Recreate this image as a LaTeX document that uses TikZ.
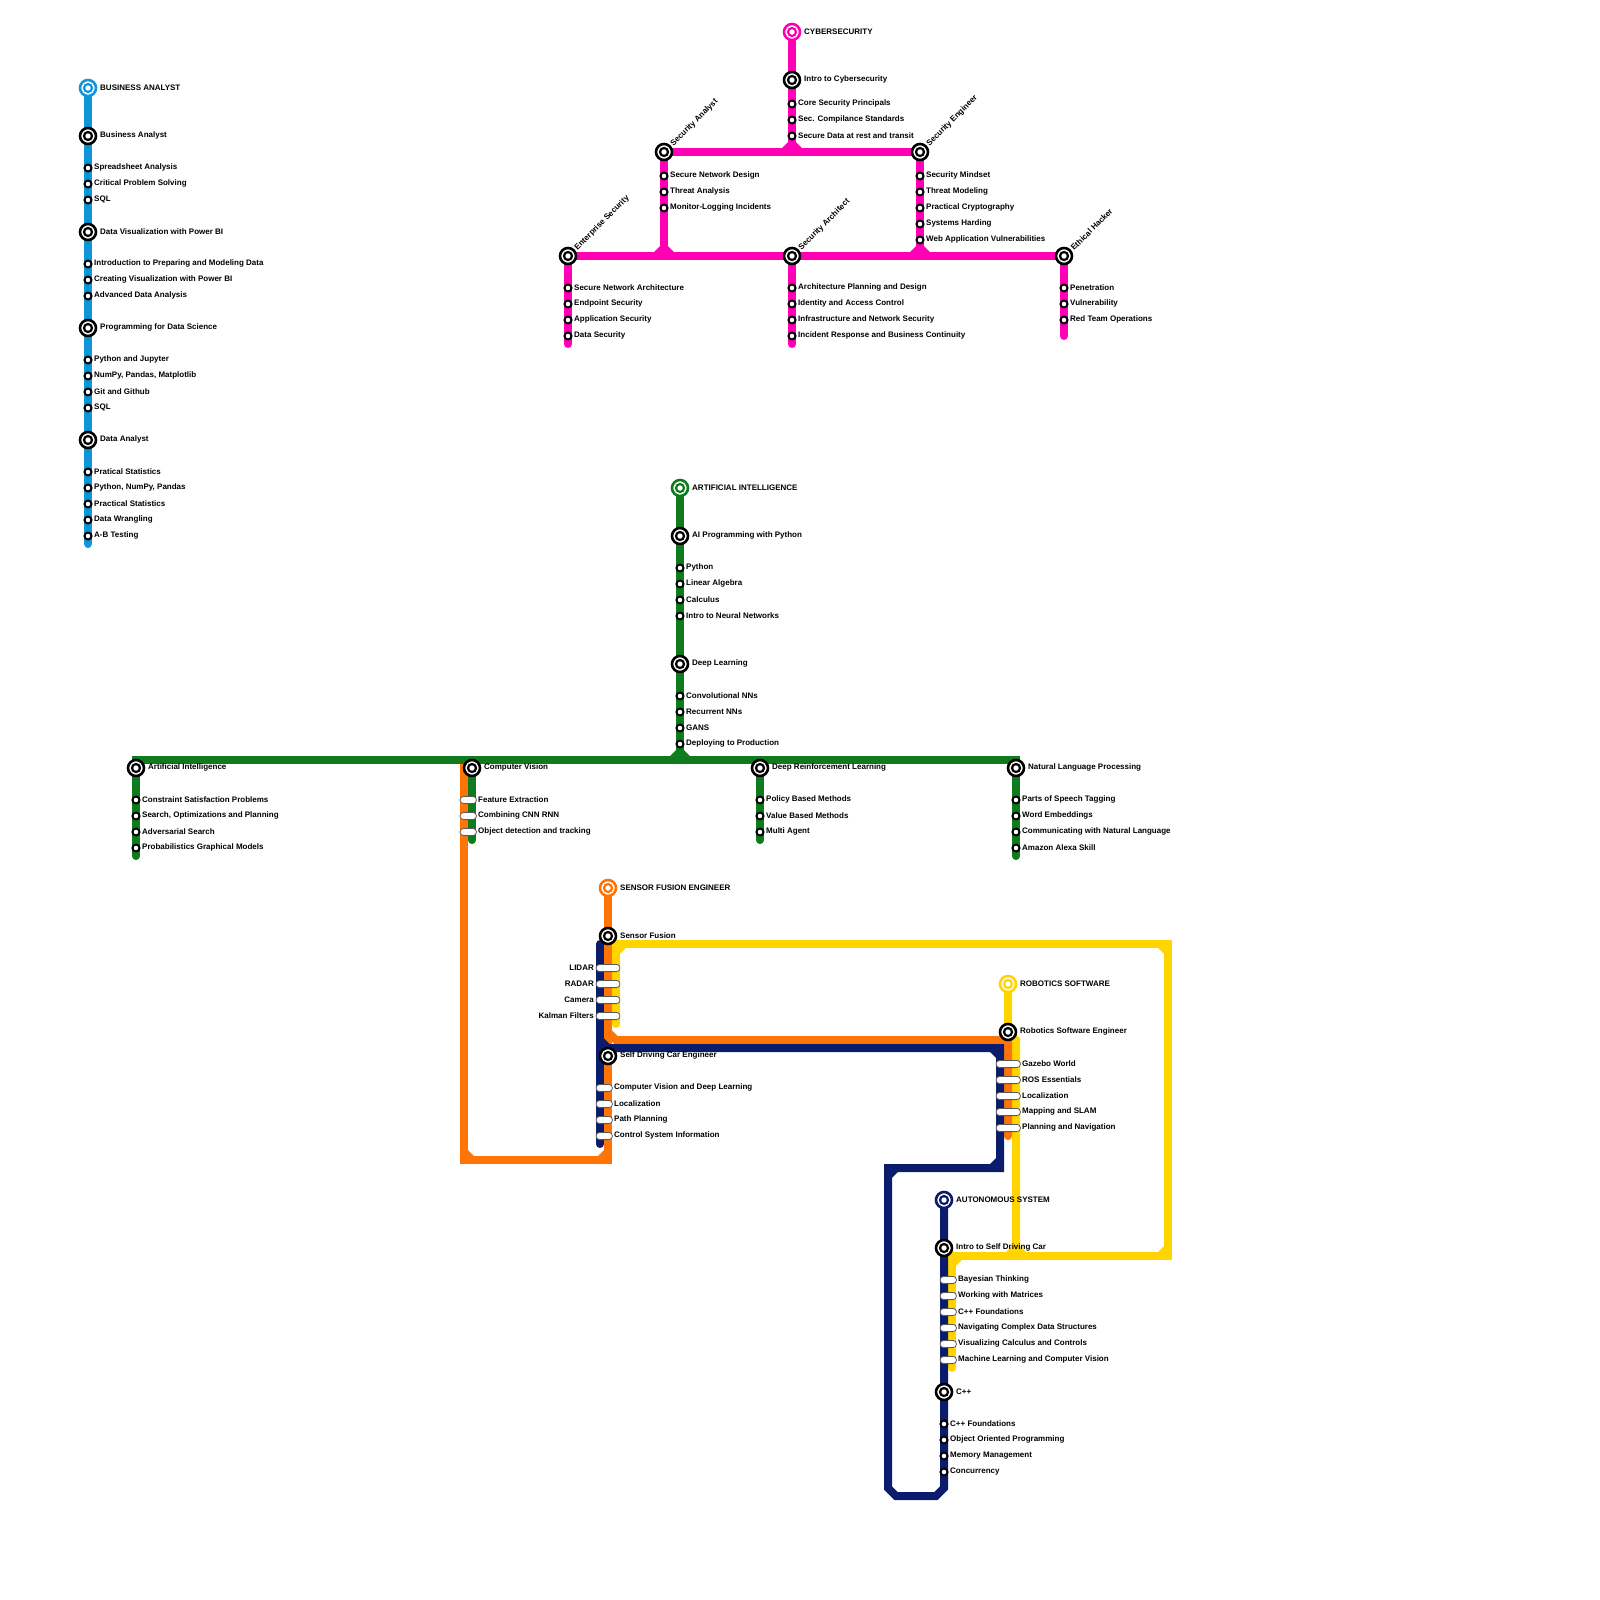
\documentclass[tikz,border=0pt]{standalone}
\usepackage{fontspec}
\setmainfont{Liberation Sans}
\usetikzlibrary{backgrounds}
\definecolor{cblue}{HTML}{0F96D8}
\definecolor{cmag}{HTML}{FF00B4}
\definecolor{cgreen}{HTML}{0F7A1E}
\definecolor{corange}{HTML}{FF7404}
\definecolor{cyellow}{HTML}{FFD400}
\definecolor{cnavy}{HTML}{0C1C6C}
\tikzset{
  lab/.style={font=\fontsize{8pt}{9pt}\selectfont\bfseries,inner sep=0pt,text=black,anchor=west},
  labr/.style={font=\fontsize{8pt}{9pt}\selectfont\bfseries,inner sep=0pt,text=black,anchor=east},
  ring/.style={circle,draw=#1,fill=white,line width=2.6pt,minimum size=16pt,inner sep=0pt},
  ringin/.style={circle,draw=#1,fill=white,line width=2.2pt,minimum size=8pt,inner sep=0pt},
  stopdot/.style={circle,draw=black,fill=white,line width=2pt,minimum size=7pt,inner sep=0pt},
  capsule/.style={rounded corners=3.6pt,draw=black!65,fill=white,line width=0.8pt},
  metro/.style={line width=8pt,line cap=round,line join=miter,color=#1},
}
% terminal of a line
\newcommand\term[5]{\node[ring=#5] (#1) at (#2,#3) {};\node[ringin=#5] at (#1.center) {};\node[lab] (#1-l) at (#2+12,#3-0.2) {#4};}
% major station
\newcommand\stn[4]{\node[ring=black] (#1) at (#2,#3) {};\node[ringin=black] at (#1.center) {};\node[lab] (#1-l) at (#2+12,#3-0.2) {#4};}
% station with slanted label
\newcommand\stnr[4]{\node[ring=black] (#1) at (#2,#3) {};\node[ringin=black] at (#1.center) {};\node[lab,rotate=45] (#1-l) at (#2+8,#3-7) {#4};}
% small stop
\newcommand\stp[4]{\node[stopdot] (#1) at (#2,#3) {};\node[lab] (#1-l) at (#2+6,#3-0.2) {#4};}
% capsule: name, x-left, x-right, y, label, label x
\newcommand\capn[6]{\draw[capsule] (#2,#4-3.6) rectangle (#3,#4+3.6);\coordinate (#1) at (#2,#4);\node[lab] (#1-l) at (#6,#4-0.2) {#5};}
\newcommand\capnl[6]{\draw[capsule] (#2,#4-3.6) rectangle (#3,#4+3.6);\coordinate (#1) at (#2,#4);\node[labr] (#1-l) at (#6,#4-0.2) {#5};}
% inner chamfer triangle: colour, corner x, y, dx, dy
\newcommand\ic[5]{\fill[#1] (#2+#4*3.9,#3+#5*3.9) -- (#2+#4*10,#3+#5*3.9) -- (#2+#4*3.9,#3+#5*10) -- cycle;}
\begin{document}
\begin{tikzpicture}[x=1pt,y=-1pt]
\useasboundingbox (0,0) rectangle (1600,1600);

% ---------- Business analyst
\term{ba}{88}{88}{BUSINESS ANALYST}{cblue}
\stn{ba1}{88}{136}{Business Analyst}
\stp{b1}{88}{168}{Spreadsheet Analysis}
\stp{b2}{88}{184}{Critical Problem Solving}
\stp{b3}{88}{200}{SQL}
\stn{ba2}{88}{232}{Data Visualization with Power BI}
\stp{b4}{88}{264}{Introduction to Preparing and Modeling Data}
\stp{b5}{88}{280}{Creating Visualization with Power BI}
\stp{b6}{88}{296}{Advanced Data Analysis}
\stn{ba3}{88}{328}{Programming for Data Science}
\stp{b7}{88}{360}{Python and Jupyter}
\stp{b8}{88}{376}{NumPy, Pandas, Matplotlib}
\stp{b9}{88}{392}{Git and Github}
\stp{b10}{88}{408}{SQL}
\stn{ba4}{88}{440}{Data Analyst}
\stp{b11}{88}{472}{Pratical Statistics}
\stp{b12}{88}{488}{Python, NumPy, Pandas}
\stp{b13}{88}{504}{Practical Statistics}
\stp{b14}{88}{520}{Data Wrangling}
\stp{b15}{88}{536}{A-B Testing}
\coordinate (baend) at (88,544);

% ---------- Cybersecurity
\term{cs}{792}{32}{CYBERSECURITY}{cmag}
\stn{cs1}{792}{80}{Intro to Cybersecurity}
\stp{c1}{792}{104}{Core Security Principals}
\stp{c2}{792}{120}{Sec. Compilance Standards}
\stp{c3}{792}{136}{Secure Data at rest and transit}
\coordinate (cj1) at (792,152);
\stnr{san}{664}{152}{Security Analyst}
\stnr{sen}{920}{152}{Security Engineer}
\stp{c4}{664}{176}{Secure Network Design}
\stp{c5}{664}{192}{Threat Analysis}
\stp{c6}{664}{208}{Monitor-Logging Incidents}
\stp{c7}{920}{176}{Security Mindset}
\stp{c8}{920}{192}{Threat Modeling}
\stp{c9}{920}{208}{Practical Cryptography}
\stp{c10}{920}{224}{Systems Harding}
\stp{c11}{920}{240}{Web Application Vulnerabilities}
\stnr{ens}{568}{256}{Enterprise Security}
\stnr{sar}{792}{256}{Security Architect}
\stnr{eth}{1064}{256}{Ethical Hacker}
\coordinate (cj2) at (664,256);
\coordinate (cj3) at (920,256);
\stp{c12}{568}{288}{Secure Network Architecture}
\stp{c13}{568}{304}{Endpoint Security}
\stp{c14}{568}{320}{Application Security}
\stp{c15}{568}{336}{Data Security}
\coordinate (ensend) at (568,344);
\stp{c16}{792}{288}{Architecture Planning and Design}
\stp{c17}{792}{304}{Identity and Access Control}
\stp{c18}{792}{320}{Infrastructure and Network Security}
\stp{c19}{792}{336}{Incident Response and Business Continuity}
\coordinate (sarend) at (792,344);
\stp{c20}{1064}{288}{Penetration}
\stp{c21}{1064}{304}{Vulnerability}
\stp{c22}{1064}{320}{Red Team Operations}
\coordinate (ethend) at (1064,336);

% ---------- Artificial intelligence
\term{ai}{680}{488}{ARTIFICIAL INTELLIGENCE}{cgreen}
\stn{ai1}{680}{536}{AI Programming with Python}
\stp{a1}{680}{568}{Python}
\stp{a2}{680}{584}{Linear Algebra}
\stp{a3}{680}{600}{Calculus}
\stp{a4}{680}{616}{Intro to Neural Networks}
\stn{ai2}{680}{664}{Deep Learning}
\stp{a5}{680}{696}{Convolutional NNs}
\stp{a6}{680}{712}{Recurrent NNs}
\stp{a7}{680}{728}{GANS}
\stp{a8}{680}{744}{Deploying to Production}
\coordinate (aj) at (680,760);
\coordinate (gl) at (136,760);
\coordinate (gcv) at (472,760);
\coordinate (gdr) at (760,760);
\coordinate (gr) at (1016,760);
\stn{ai3}{136}{768}{Artificial Intelligence}
\stp{a9}{136}{800}{Constraint Satisfaction Problems}
\stp{a10}{136}{816}{Search, Optimizations and Planning}
\stp{a11}{136}{832}{Adversarial Search}
\stp{a12}{136}{848}{Probabilistics Graphical Models}
\coordinate (ai3end) at (136,856);
\stn{ai4}{472}{768}{Computer Vision}
\coordinate (ai4end) at (472,840);
\stn{ai5}{760}{768}{Deep Reinforcement Learning}
\stp{a13}{760}{800}{Policy Based Methods}
\stp{a14}{760}{816}{Value Based Methods}
\stp{a15}{760}{832}{Multi Agent}
\coordinate (ai5end) at (760,840);
\stn{ai6}{1016}{768}{Natural Language Processing}
\stp{a16}{1016}{800}{Parts of Speech Tagging}
\stp{a17}{1016}{816}{Word Embeddings}
\stp{a18}{1016}{832}{Communicating with Natural Language}
\stp{a19}{1016}{848}{Amazon Alexa Skill}
\coordinate (ai6end) at (1016,856);
\capn{v1}{460}{476.5}{800}{Feature Extraction}{478}
\capn{v2}{460}{476.5}{816}{Combining CNN RNN}{478}
\capn{v3}{460}{476.5}{832}{Object detection and tracking}{478}

% ---------- Sensor fusion / self driving
\term{sf}{608}{888}{SENSOR FUSION ENGINEER}{corange}
\stn{sf1}{608}{936}{Sensor Fusion}
\capnl{f1}{596}{620}{968}{LIDAR}{594}
\capnl{f2}{596}{620}{984}{RADAR}{594}
\capnl{f3}{596}{620}{1000}{Camera}{594}
\capnl{f4}{596}{620}{1016}{Kalman Filters}{594}
\stn{sd}{608}{1056}{Self Driving Car Engineer}
\capn{d1}{596}{612.5}{1088}{Computer Vision and Deep Learning}{614}
\capn{d2}{596}{612.5}{1104}{Localization}{614}
\capn{d3}{596}{612.5}{1120}{Path Planning}{614}
\capn{d4}{596}{612.5}{1136}{Control System Information}{614}
\coordinate (ot) at (464,760);
\coordinate (obl) at (464,1160);
\coordinate (obr) at (608,1160);
\coordinate (oc1) at (608,1032);
\coordinate (oc2) at (616,1040);
\coordinate (oc3) at (1008,1040);
\coordinate (oend) at (1008,1136);

% ---------- Robotics
\term{rs}{1008}{984}{ROBOTICS SOFTWARE}{cyellow}
\stn{rs1}{1008}{1032}{Robotics Software Engineer}
\capn{r1}{996}{1020.5}{1064}{Gazebo World}{1022}
\capn{r2}{996}{1020.5}{1080}{ROS Essentials}{1022}
\capn{r3}{996}{1020.5}{1096}{Localization}{1022}
\capn{r4}{996}{1020.5}{1112}{Mapping and SLAM}{1022}
\capn{r5}{996}{1020.5}{1128}{Planning and Navigation}{1022}
\coordinate (y1) at (1016,1040);
\coordinate (y2) at (1016,1256);
\coordinate (y3) at (616,1024);
\coordinate (y4) at (616,944);
\coordinate (y5) at (1168,944);
\coordinate (y6) at (1168,1256);
\coordinate (y7) at (952,1256);
\coordinate (y8) at (952,1368);

% ---------- Autonomous system
\term{as}{944}{1200}{AUTONOMOUS SYSTEM}{cnavy}
\stn{as1}{944}{1248}{Intro to Self Driving Car}
\capn{s1}{940}{956.5}{1280}{Bayesian Thinking}{958}
\capn{s2}{940}{956.5}{1296}{Working with Matrices}{958}
\capn{s3}{940}{956.5}{1312}{C++ Foundations}{958}
\capn{s4}{940}{956.5}{1328}{Navigating Complex Data Structures}{958}
\capn{s5}{940}{956.5}{1344}{Visualizing Calculus and Controls}{958}
\capn{s6}{940}{956.5}{1360}{Machine Learning and Computer Vision}{958}
\stn{as2}{944}{1392}{C++}
\stp{s7}{944}{1424}{C++ Foundations}
\stp{s8}{944}{1440}{Object Oriented Programming}
\stp{s9}{944}{1456}{Memory Management}
\stp{s10}{944}{1472}{Concurrency}
\coordinate (n1) at (600,944);
\coordinate (n2) at (600,1144);
\coordinate (n3) at (600,1040);
\coordinate (n4) at (608,1048);
\coordinate (n5) at (1000,1048);
\coordinate (n6) at (1000,1168);
\coordinate (n7) at (888,1168);
\coordinate (n8) at (888,1488);
\coordinate (n9) at (896,1496);
\coordinate (n10) at (936,1496);
\coordinate (n11) at (944,1488);

\begin{scope}[on background layer]
\fill[white] (0,0) rectangle (1600,1600);
% yellow
\draw[metro=cyellow] (rs.center) -- (rs1.center) -- (y1) -- (y2);
\draw[metro=cyellow] (y3) -- (y4) -- (y5) -- (y6) -- (y7) -- (y8);
\ic{cyellow}{616}{944}{1}{1}
\ic{cyellow}{1168}{944}{-1}{1}
\ic{cyellow}{1168}{1256}{-1}{-1}
\ic{cyellow}{952}{1256}{1}{1}
\ic{cyellow}{1016}{1256}{-1}{-1}
\ic{cyellow}{1016}{1256}{1}{-1}
% orange
\draw[metro=corange] (ot) -- (obl) -- (obr) -- (sf.center);
\draw[metro=corange] (oc1) -- (oc2) -- (oc3) -- (oend);
\ic{corange}{464}{1160}{1}{-1}
\ic{corange}{608}{1160}{-1}{-1}
% navy
\draw[metro=cnavy] (n1) -- (n2);
\draw[metro=cnavy] (n3) -- (n4) -- (n5) -- (n6) -- (n7) -- (n8) -- (n9) -- (n10) -- (n11) -- (as.center);
\ic{cnavy}{1000}{1048}{-1}{1}
\ic{cnavy}{1000}{1168}{-1}{-1}
\ic{cnavy}{888}{1168}{1}{1}
% green
\draw[metro=cgreen] (ai.center) -- (aj);
\draw[metro=cgreen,line cap=butt] ([xshift=-4pt]gl) -- ([xshift=4pt]gr);
\draw[metro=cgreen] (gl) -- (ai3end);
\draw[metro=cgreen] (gcv) -- (ai4end);
\draw[metro=cgreen] (gdr) -- (ai5end);
\draw[metro=cgreen] (gr) -- (ai6end);
\ic{cgreen}{680}{760}{-1}{-1}
\ic{cgreen}{680}{760}{1}{-1}
% magenta
\draw[metro=cmag] (cs.center) -- (cj1);
\draw[metro=cmag] (san.center) -- (sen.center);
\draw[metro=cmag] (san.center) -- (cj2);
\draw[metro=cmag] (sen.center) -- (cj3);
\draw[metro=cmag] (ens.center) -- (sar.center) -- (eth.center);
\draw[metro=cmag] (ens.center) -- (ensend);
\draw[metro=cmag] (sar.center) -- (sarend);
\draw[metro=cmag] (eth.center) -- (ethend);
\ic{cmag}{792}{152}{-1}{-1}
\ic{cmag}{792}{152}{1}{-1}
\ic{cmag}{664}{256}{-1}{-1}
\ic{cmag}{664}{256}{1}{-1}
\ic{cmag}{920}{256}{-1}{-1}
\ic{cmag}{920}{256}{1}{-1}
% blue
\draw[metro=cblue] (ba.center) -- (baend);
\end{scope}
\end{tikzpicture}
\end{document}
